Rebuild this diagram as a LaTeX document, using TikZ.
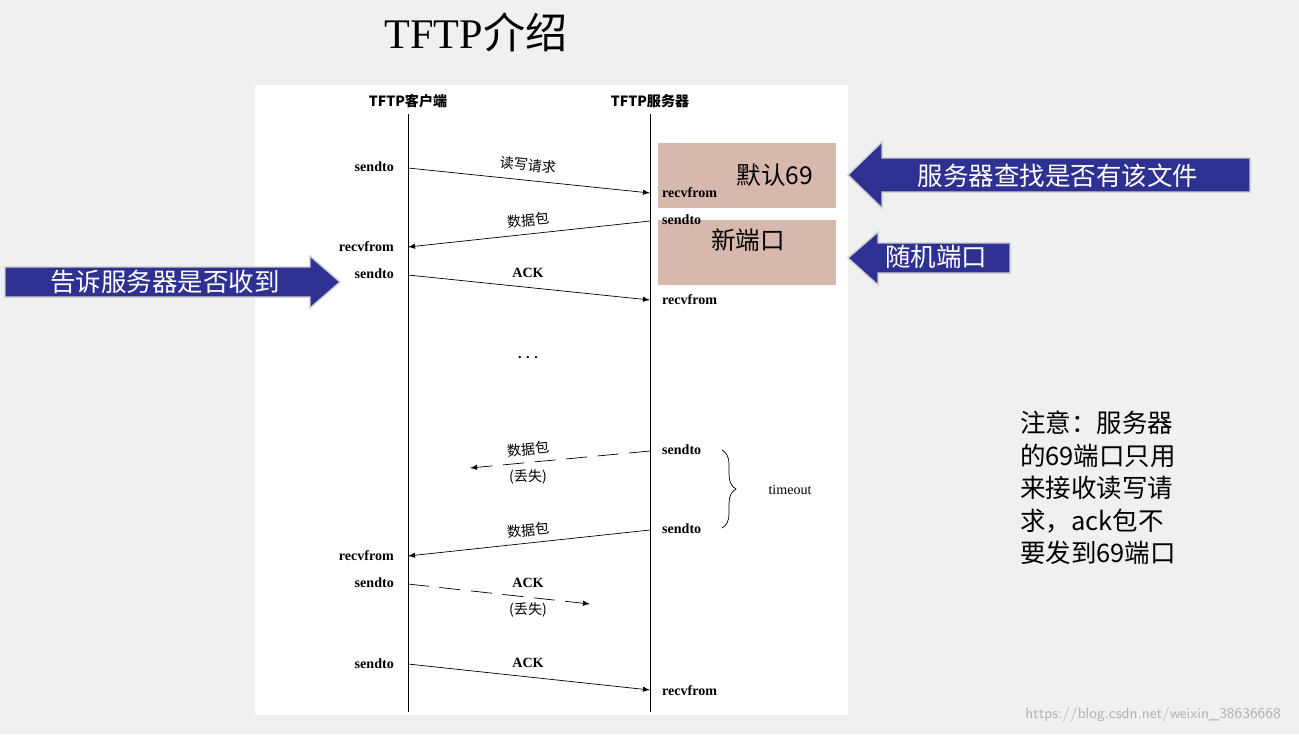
\documentclass[tikz,border=0pt]{standalone}
\usepackage{fontspec}
\setmainfont{Liberation Serif}
\newfontfamily\cjk{Noto Sans CJK SC}
\usetikzlibrary{decorations.pathreplacing}
\definecolor{navy}{HTML}{2E3192}
\definecolor{pinkbox}{HTML}{D6B8AC}
\tikzset{
  msg/.style={font=\bfseries\fontsize{8}{9}\selectfont},
  lbl/.style={font=\cjk\fontsize{8}{9}\selectfont},
  flow/.style={-latex, thin},
  lost/.style={-latex, thin, dash pattern=on 12pt off 6pt},
  callout/.style={fill=navy, draw=gray!40, line width=0.8pt},
  calltext/.style={font=\cjk\fontsize{14.5}{16}\selectfont, text=white}
}
\begin{document}
\begin{tikzpicture}[x=0.2mm, y=-0.2mm]
    \useasboundingbox (0,0) rectangle (1299,734);
    \fill[gray!12] (0,0) rectangle (1299,734);
    \fill[white] (255,85) rectangle (848,715);

    \node (title) at (476,32) {\fontsize{24}{27}\selectfont TFTP{\cjk 介绍}};

    % lifelines
    \node[lbl, font=\bfseries\fontsize{8}{9}\selectfont\cjk] (cli) at (408,101) {TFTP客户端};
    \node[lbl, font=\bfseries\fontsize{8}{9}\selectfont\cjk] (srv) at (650,101) {TFTP服务器};
    \coordinate (cend) at (408,712);
    \coordinate (send) at (650,712);
    \draw (cli) -- (cend);
    \draw (srv) -- (send);

    % boxes
    \fill[pinkbox] (658,143) rectangle (836,208);
    \fill[pinkbox] (658,220) rectangle (836,285);
    \node[font=\cjk\fontsize{14}{15}\selectfont] (def) at (775,175) {默认69};
    \node[font=\cjk\fontsize{14}{15}\selectfont] (newp) at (748,240) {新端口};

    % message endpoints
    \coordinate (c1) at (408,168); \coordinate (s1) at (650,193);
    \coordinate (s2) at (650,221); \coordinate (c2) at (408,247);
    \coordinate (c3) at (408,275); \coordinate (s3) at (650,300);
    \coordinate (s4) at (650,451); \coordinate (e4) at (470,468);
    \coordinate (s5) at (650,530); \coordinate (c5) at (408,556);
    \coordinate (c6) at (408,584); \coordinate (e6) at (590,604);
    \coordinate (c7) at (408,664); \coordinate (s7) at (650,690);

    \node[msg, left] at (400,167) {sendto};
    \node[msg, right] at (656,193) {recvfrom};
    \node[msg, right] at (656,220) {sendto};
    \node[msg, left] at (400,247) {recvfrom};
    \node[msg, left] at (400,274) {sendto};
    \node[msg, right] at (656,300) {recvfrom};
    \node[msg, right] at (656,450) {sendto};
    \node[msg, right] at (656,529) {sendto};
    \node[msg, left] at (400,556) {recvfrom};
    \node[msg, left] at (400,583) {sendto};
    \node[msg, left] at (400,664) {sendto};
    \node[msg, right] at (656,691) {recvfrom};

    \draw[flow] (c1) -- (s1);
    \draw[flow] (s2) -- (c2);
    \draw[flow] (c3) -- (s3);
    \draw[lost] (s4) -- (e4);
    \draw[flow] (s5) -- (c5);
    \draw[lost] (c6) -- (e6);
    \draw[flow] (c7) -- (s7);

    \node[lbl, rotate=-6] at (528,165) {读写请求};
    \node[lbl, rotate=6] at (528,220) {数据包};
    \node[msg] at (528,273) {ACK};
    \node[msg] at (528,358) {. . .};
    \node[lbl, rotate=6] at (528,449) {数据包};
    \node[lbl] at (528,477) {(丢失)};
    \node[lbl, rotate=6] at (528,530) {数据包};
    \node[msg] at (528,583) {ACK};
    \node[lbl] at (528,610) {(丢失)};
    \node[msg] at (528,663) {ACK};

    \draw[decorate, decoration={brace, amplitude=8pt}] (722,450) -- (722,528);
    \node[msg, font=\fontsize{8}{9}\selectfont] (tmo) at (790,490) {timeout};

    % callouts
    \draw[callout] (848,175) -- (882,142) -- (882,158) -- (1250,158) -- (1250,192) -- (882,192) -- (882,208) -- cycle;
    \node[calltext] at (1058,176) {服务器查找是否有该文件};
    \draw[callout] (848,258) -- (878,232) -- (878,243) -- (1010,243) -- (1010,273) -- (878,273) -- (878,285) -- cycle;
    \node[calltext] at (936,257) {随机端口};
    \draw[callout] (340,282) -- (310,256) -- (310,267) -- (5,267) -- (5,297) -- (310,297) -- (310,308) -- cycle;
    \node[calltext] at (165,282) {告诉服务器是否收到};

    \node[font=\cjk\fontsize{14.5}{18.5}\selectfont, align=left, anchor=north west] (note) at (1014,405)
      {注意：服务器\\的69端口只用\\来接收读写请\\求，ack包不\\要发到69端口};
    \node[font=\sffamily\fontsize{8.5}{9}\selectfont, text=gray!60] at (1153,715) {https://blog.csdn.net/weixin\_38636668};
\end{tikzpicture}
\end{document}
